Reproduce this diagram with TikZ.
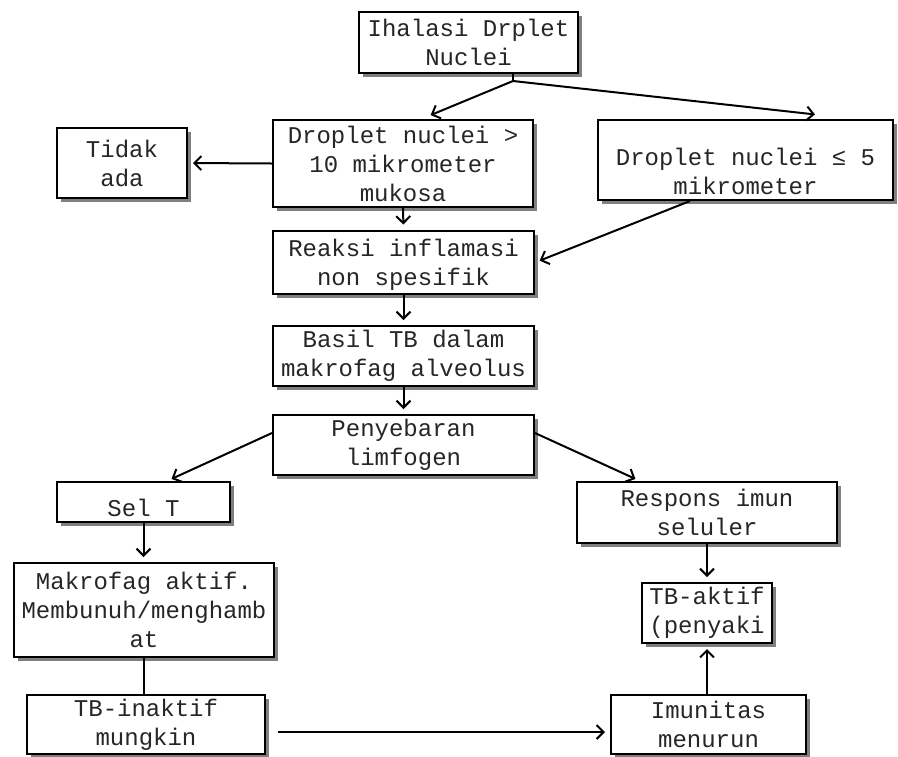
\documentclass[tikz,border=0pt]{standalone}
\usepackage{fontspec}
\setmainfont{Liberation Mono}
\usepackage{tikz}
\usetikzlibrary{arrows.meta,positioning,shadows}

\begin{document}
\begin{tikzpicture}[
  x=0.5pt, y=-0.5pt,
  every node/.style={font=\fontsize{12}{14.5}\selectfont},
  stepbox/.style={draw, line width=1pt, fill=white, align=center,
    inner sep=2pt, text=black!85,
    drop shadow={shadow xshift=2pt, shadow yshift=-2pt, fill=black!50, opacity=1}},
  flow/.style={-{Straight Barb[length=3.5pt,width=7pt]}, line width=1pt,
    shorten >=2.5pt},
  plain/.style={line width=1pt},
]
\useasboundingbox (0,0) rectangle (898,756);

\node[stepbox, minimum width=109.5pt, minimum height=30.5pt] (ihal) at (468.5,42.5)
  {Ihalasi Drplet\\Nuclei};
\node[stepbox, minimum width=130pt, minimum height=43.5pt] (drop10) at (403,163.5)
  {Droplet nuclei >\\10 mikrometer\\mukosa};
\node[stepbox, minimum width=65pt, minimum height=35pt] (tidak) at (122,163)
  {Tidak\\ada};
\node[stepbox, minimum width=147.5pt, minimum height=40pt] (drop5) at (745.5,160)
  {\rule{0pt}{20pt}Droplet nuclei ≤ 5\\mikrometer};
\node[stepbox, minimum width=130.5pt, minimum height=29.5pt] (reaksi) at (403.5,262.5)
  {\rule{0pt}{11pt}Reaksi inflamasi\\non spesifik};
\node[stepbox, minimum width=130.5pt, minimum height=30pt] (basil) at (403.5,356)
  {Basil TB dalam\\makrofag alveolus};
\node[stepbox, minimum width=130.5pt, minimum height=30pt] (sebar) at (403.5,445)
  {Penyebaran\\limfogen};
\node[stepbox, minimum width=86.5pt, minimum height=20pt] (selT) at (143.5,502)
  {\rule{0pt}{15pt}Sel T};
\node[stepbox, minimum width=130pt, minimum height=47pt] (makro) at (144,610)
  {Makrofag aktif.\\Membunuh/menghamb\\at};
\node[stepbox, minimum width=119pt, minimum height=29.5pt] (inaktif) at (146,724.5)
  {TB-inaktif\\mungkin};
\node[stepbox, minimum width=130pt, minimum height=30.5pt] (respons) at (707,512.5)
  {Respons imun\\seluler};
\node[stepbox, minimum width=65pt, minimum height=30pt] (aktif) at (707,613)
  {TB-aktif\\(penyaki};
\node[stepbox, minimum width=97.5pt, minimum height=29.5pt] (imun) at (708.5,724.5)
  {Imunitas\\menurun};

% split below the first box
\coordinate (split) at (513,81);
\coordinate (inL) at (426,117);
\coordinate (inR) at (820,115);
\draw[plain] (split |- ihal.south) -- (split);
\draw[flow] (split) -- (inL);
\draw[flow] (split) -- (inR);

\draw[flow] (drop10.west) -- (tidak.east);
\draw[flow] (drop10.south) -- (reaksi.north);
\draw[flow] ([xshift=-27.75pt]drop5.south) -- (reaksi.east);
\draw[flow] (reaksi) -- (basil);
\draw[flow] (basil) -- (sebar);

\draw[flow] ([yshift=6pt]sebar.west) -- ([xshift=11.75pt]selT.north);
\draw[flow] ([yshift=6pt]sebar.east) -- ([xshift=-33.5pt]respons.north);

\draw[flow] (selT.south) -- (selT.south |- makro.north);
\draw[plain] (makro.south) -- (makro.south |- inaktif.north);
\draw[flow, shorten <=6pt] ([yshift=-3.75pt]inaktif.east)
  -- ([yshift=-3.75pt]inaktif.east -| imun.west);

\draw[flow] (respons.south) -- (aktif.north);
\draw[flow] (aktif.south |- imun.north) -- (aktif.south);
\end{tikzpicture}
\end{document}
